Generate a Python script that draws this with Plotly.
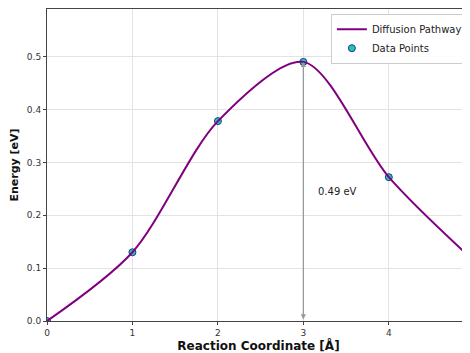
import plotly.graph_objects as go

coords = [0, 1, 2, 3, 4, 5]
energies = [0.0, 0.13, 0.378, 0.49, 0.272, 0.113]
barrier = 0.49
barrier_x = 3

font = "DejaVu Sans"

fig = go.Figure()

# markers first so the curve sits over them, as in the reference
fig.add_trace(go.Scatter(
    x=coords, y=energies, mode="markers", name="Data Points", legendrank=2,
    marker=dict(color="#22c0cc", size=7, line=dict(color="#1f3f6f", width=1)),
))
fig.add_trace(go.Scatter(
    x=coords, y=energies, mode="lines", name="Diffusion Pathway", legendrank=1,
    line=dict(color="#800080", width=2, shape="spline", smoothing=0.85),
))

fig.add_annotation(
    x=barrier_x, y=barrier, ax=barrier_x, ay=0, xref="x", yref="y",
    axref="x", ayref="y", text="", showarrow=True,
    arrowhead=2, arrowside="end+start", arrowsize=0.8, arrowwidth=1.3,
    arrowcolor="#999999",
)
fig.add_annotation(
    x=barrier_x + 0.15, y=barrier / 2, text=f"{barrier:.2f} eV",
    showarrow=False, xanchor="left", font=dict(size=10, color="#222222"),
)

# page body keeps its 8px margin, so the figure is sized to fit what is left
fig.update_layout(
    width=462, height=345,
    template="plotly_white",
    font=dict(family=font, size=9, color="#333333"),
    margin=dict(l=39, r=0, t=1, b=32),
    legend=dict(
        x=0.995, y=0.985, xanchor="right", yanchor="top",
        bordercolor="#cccccc", borderwidth=1, bgcolor="rgba(255,255,255,0.9)",
        font=dict(size=10, color="#222222"),
    ),
    showlegend=True,
)
fig.update_xaxes(
    range=[0, 4.95], tickvals=[0, 1, 2, 3, 4], showgrid=True,
    gridcolor="#e3e3e3", showline=True, linecolor="#444444", mirror=True,
    ticks="outside", ticklen=3, zeroline=False,
    title=dict(text="<b>Reaction Coordinate [Å]</b>", font=dict(size=12, color="#111111"), standoff=3),
)
fig.update_yaxes(
    range=[0, 0.59], tickvals=[0, 0.1, 0.2, 0.3, 0.4, 0.5], tickformat=".1f",
    showgrid=True, gridcolor="#e3e3e3", showline=True, linecolor="#444444",
    ticks="outside", ticklen=3, zeroline=False,
    title=dict(text="<b>Energy [eV]</b>", font=dict(size=11, color="#111111"), standoff=6),
)

fig.write_html("out.html")
